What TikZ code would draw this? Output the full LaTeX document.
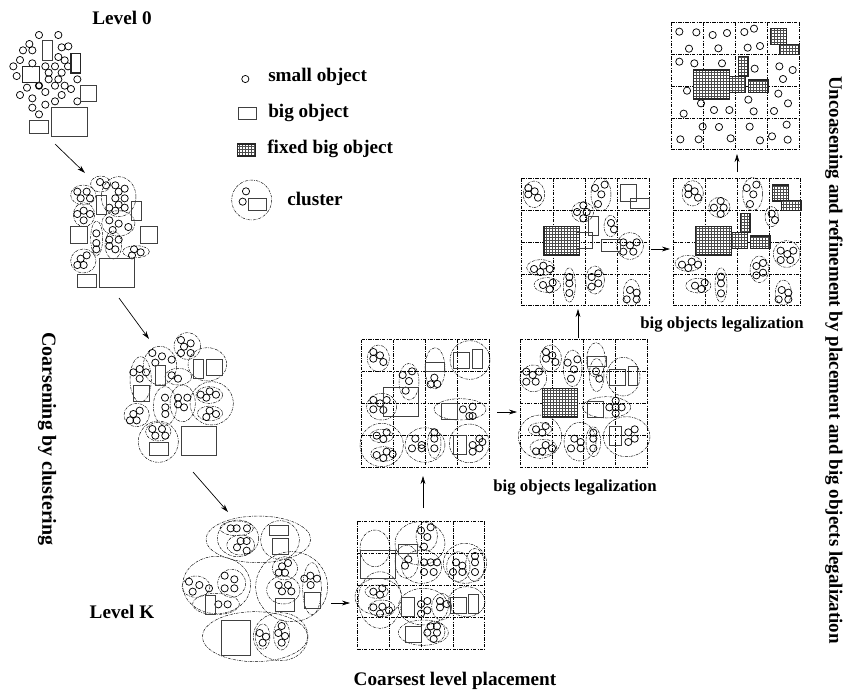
\documentclass[tikz,border=0pt]{standalone}
\usepackage{fontspec}
\setmainfont{Liberation Serif}
\usetikzlibrary{arrows.meta}

\newcommand{\smallobjs}[1]{\foreach \cx/\cy in {#1}{\draw[smallobj] (\cx,\cy) circle[radius=2.7pt];}}
\newcommand{\bigobjs}[1]{\foreach \ax/\ay/\bx/\by in {#1}{\draw[bigobj] (\ax,\ay) rectangle (\bx,\by);}}
\newcommand{\fixedobjs}[1]{\foreach \ax/\ay/\bx/\by in {#1}{
  \draw[bigobj, fill=white] (\ax,\ay) rectangle (\bx,\by);
  \draw[fixedhatch] (\ax,\ay) grid (\bx,\by);
  \draw[fixedobj] (\ax,\ay) rectangle (\bx,\by);}}
\newcommand{\clusters}[1]{\foreach \ex/\ey/\rx/\ry in {#1}{\draw[cluster] (\ex,\ey) ellipse[x radius=\rx, y radius=\ry];}}
\newcommand{\regiongrid}[2]{\foreach \i in {0,...,4}{
  \draw[gridline] ({#1+95.5*\i},#2) -- ({#1+95.5*\i},{#2+382});
  \draw[gridline] (#1,{#2+95.5*\i}) -- ({#1+382},{#2+95.5*\i});}}

\begin{document}
\begin{tikzpicture}[
  x=0.75pt, y=-0.75pt,
  font=\fontsize{14.4pt}{16pt}\selectfont\bfseries,
  smallobj/.style={draw=black, line width=0.55pt},
  bigobj/.style={draw=black!75, line width=0.75pt},
  fixedobj/.style={draw=black!85, line width=0.8pt},
  fixedhatch/.style={draw=black!70, line width=0.22pt, step=2.25pt},
  cluster/.style={draw=black, line width=0.35pt, dash pattern=on 2pt off 0.8pt on 0.5pt off 0.8pt},
  gridline/.style={draw=black, line width=0.45pt, dash pattern=on 2.5pt off 1pt on 0.6pt off 1pt},
  arr/.style={-{Stealth[length=6pt, width=3.6pt]}, line width=0.5pt},
  midlabel/.style={font=\fontsize{12.6pt}{14pt}\selectfont\bfseries},
  zoomed/.style n args={2}{shift={(#1,#2)}, x=0.25pt, y=-0.25pt}
]
\useasboundingbox (0,0) rectangle (854,690);

\node (lev0) at (122,18) {Level 0};
\node (levk) at (122,612) {Level K};
\node[anchor=west, inner sep=0pt] (legsmall) at (268,77) {small object};
\node[anchor=west, inner sep=0pt] (legbig) at (268,113) {big object};
\node[anchor=west, inner sep=0pt] (legfixed) at (267,149) {fixed big object};
\node[anchor=west, inner sep=0pt] (legcluster) at (287,199) {cluster};
\node[rotate=-90, font=\fontsize{15pt}{16pt}\selectfont\bfseries] (coarsening) at (47,439) {Coarsening by clustering};
\node[rotate=-90, font=\fontsize{14.2pt}{16pt}\selectfont\bfseries] (uncoarsening) at (834,360) {Uncoasening and refinement by placement and big objects legalization};
\node[midlabel] (legal1) at (722,325) {big objects legalization};
\node[midlabel] (legal2) at (575,488) {big objects legalization};
\node (coarsest) at (455,681) {Coarsest level placement};

\begin{scope}[zoomed={200}{50}]
\smallobjs{136/87,138/424,128/455}
\bigobjs{114/172/168/208,146/446/200/482}
\fixedobjs{112/282/166/318}
\clusters{155/450/60/60}
\end{scope}

\begin{scope}[zoomed={0}{0}]
\smallobjs{117/105,175/105,88/132,69/151,97/151,185/142,205/139,175/171,194/181,60/180,40/199,97/190,136/199,165/199,204/199,146/218,185/218,50/228,146/238,175/238,232/238,165/257,194/257,213/267,81/263,136/276,60/285,97/295,185/285,165/304,232/304,136/314,97/323,117/343}
\draw[smallobj, line width=1pt] (117,257) circle[radius=2.5pt];
\bigobjs{127/122/156/181,242/257/290/305,155/323/261/410,88/362/146/400}
\draw[fixedobj, line width=1.1pt] (213,161) rectangle (242,219);
\draw[fixedobj, line width=1.1pt] (68,199) rectangle (118,248);
\clusters{250/585/38/30,302/552/30/24,356/590/52/60,252/644/32/36,355/670/50/38,290/715/18/52,340/735/25/42,250/783/38/36,408/755/40/18}
\smallobjs{300/546,318/556,346/556,374/566,356/575,232/575,260/575,242/595,270/595,346/595,374/595,356/614,328/623,346/632,374/623,232/642,251/632,270/642,251/661,328/661,356/671,385/681,338/690,289/700,328/719,356/719,289/729,328/738,346/748,289/748,402/748,422/757,396/766,260/766,242/776,232/795,251/795}
\bigobjs{289/585/318/643,394/604/423/662,212/680/261/729,422/680/471/729,298/776/404/862,232/824/290/862}
\end{scope}

\begin{scope}[zoomed={110}{320}]
\clusters{232/78/40/40,150/137/50/58,205/170/40/25,92/178/32/68,292/133/58/50,165/258/35/58,218/250/38/55,305/250/65/65,298/225/40/25,300/280/38/22,80/285/38/35,145/365/60/62,145/335/38/28}
\smallobjs{213/60,242/70,222/80,213/99,242/99,127/99,156/109,185/119,136/128,70/157,89/147,108/157,89/176,185/166,204/176,165/233,166/262,166/282,204/233,232/233,204/253,222/262,272/224,299/214,318/224,289/233,299/272,318/282,289/291,89/272,70/282,60/301,80/301,127/327,156/327,136/347,166/347}
\bigobjs{136/137/165/196,251/119/280/176,289/119/338/167,70/196/118/244,213/320/319/406,118/367/176/406}
\clusters{445/658/157/70,384/655/62/55,380/625/50/22,392/675/42/30,510/660/58/58,320/795/102/86,258/800/42/32,365/790/42/42,318/852/70/32,545/800/108/105,525/745/38/35,520/810/50/42,606/806/28/78,435/950/158/75,512/950/82/72,458/950/22/38,515/945/24/45}
\smallobjs{362/625,380/625,411/625,410/663,392/663,381/682,410/692,237/785,268/795,297/805,248/815,344/767,373/778,344/805,373/805,325/853,353/853,534/729,516/739,506/758,525/758,506/795,534/795,516/814,544/814,583/776,601/767,621/776,602/795,449/939,468/950,458/968,515/918,505/939,525/948,515/968}
\bigobjs{477/616/535/645,487/654/536/702,286/826/316/884,496/835/554/873,583/816/631/865,335/902/421/1007}
\end{scope}

\begin{scope}[zoomed={340}{330}]
\regiongrid{52}{575}
\clusters{105/655/45/55,240/640/75/65,260/618/32/45,200/695/35/50,375/700/65/60,355/710/35/45,405/705/28/50,245/710/60/50,115/800/70/55,110/785/35/20,125/835/40/25,120/810/65/85,380/815/55/45,250/830/75/55,305/830/30/40,250/908/75/38,285/905/30/32}
\smallobjs{272/592,243/602,262/621,252/650,205/688,195/707,252/697,272/697,291/697,252/726,281/726,348/697,367/707,339/726,367/726,405/678,405/697,405/726,100/785,127/775,120/794,100/832,127/830,120/851,147/841,243/822,262/813,262/841,243/851,300/813,320/822,300/832,262/908,291/889,272/889,291/908,281/927}
\bigobjs{62/661/167/746,176/642/233/670,185/803/224/860,195/889/243/937,330/803/378/851,386/794/415/851}

\regiongrid{65}{29}
\clusters{115/85/33/40,207/155/30/55,285/115/30/62,390/90/60/58,125/230/45/40,360/238/78/32,125/345/65/65,125/318/35/20,130/372/38/22,255/345/60/52,283/340/20/45,388/340/60/58}
\smallobjs{100/66,120/76,100/86,130/96,216/124,188/135,207/153,197/182,283/143,292/162,272/163,100/210,120/220,140/210,100/238,130/240,369/238,398/230,388/258,398/258,110/317,130/327,140/307,110/375,130/384,140/365,158/372,226/326,245/345,216/355,245/355,283/307,283/326,283/355,418/326,398/345,427/336,418/355,398/365}
\bigobjs{255/97/313/125,340/68/389/116,398/58/427/116,130/172/236/259,303/220/351/268,340/317/380/374}

\regiongrid{540}{29}
\clusters{632/85/32/40,698/115/28/55,768/90/28/52,770/135/22/50,850/140/50/58,580/145/40/40,800/232/72/32,600/320/65/65,600/298/35/20,610/352/40/24,720/335/48/58,760/335/22/45,860/320/70/60}
\smallobjs{618/66,637/76,618/86,646/96,683/98,712/88,702/118,693/146,768/124,778/146,559/125,578/135,597/125,559/155,587/155,808/232,827/212,827/232,827/250,845/232,617/288,588/298,607/308,588/364,607/364,617/345,636/355,703/326,722/336,693/355,722/355,760/308,760/326,760/355,884/298,865/307,884/326,865/336}
\bigobjs{741/78/799/108,808/118/856/166,865/108/893/165,741/214/789/262,808/290/845/347}
\fixedobjs{607/176/713/261}
\end{scope}

\begin{scope}[zoomed={510}{0}]
\regiongrid{35}{535}
\clusters{72/583/32/40,273/583/30/50,218/636/33/30,302/678/20/32,360/738/40/40,92/803/42/24,112/855/40/22,178/855/18/52,255/840/28/42,365/878/25/40}
\smallobjs{55/564,74/574,55/583,84/593,255/564,284/554,274/583,264/612,220/616,201/636,230/636,220/655,303/669,312/688,340/727,380/727,360/736,340/755,370/755,72/807,100/797,91/816,119/807,99/855,128/848,119/868,178/831,178/850,178/879,265/820,245/831,265/850,245/860,360/870,380/878,350/898,380/898}
\fixedobjs{102/679/208/765}
\bigobjs{198/697/246/745,236/650/265/707,275/717/332/755,332/554/380/603,360/594/418/624}

\regiongrid{490}{535}
\clusters{548/580/32/38,728/582/30/50,628/622/32/30,785/650/20/30,830/762/40/40,535/790/40/24,565/857/38/22,633/855/18/52,748/808/28/40,820/878/24/38}
\smallobjs{535/564,554/574,535/583,564/593,710/564,739/554,730/583,720/612,632/603,612/623,641/623,632/642,785/641,795/660,812/752,850/752,832/762,812/780,841/780,516/794,545/785,535/804,564/794,555/857,584/848,574/867,633/830,633/850,633/880,739/798,759/789,739/826,759/818,815/870,835/878,806/898,835/898}
\fixedobjs{556/679/664/765,664/698/713/746,721/708/780/746,691/640/720/698,787/555/835/603,815/602/873/631}

\regiongrid{485}{67}
\smallobjs{508/95,559/97,608/105,651/99,703/96,732/86,537/146,625/145,713/143,750/138,508/185,553/190,636/190,734/206,808/199,848/210,819/237,531/272,805/281,834/310,573/310,612/330,658/330,521/341,731/334,792/333,715/299,578/380,627/381,719/380,830/374,511/418,566/418,662/415,750/421,786/409,833/419}
\fixedobjs{551/210/658/297,658/229/707/277,715/240/774/278,685/170/714/228,781/86/829/133,809/134/867/163}
\end{scope}

\coordinate (a0) at (55,144);
\coordinate (a1) at (85,173);
\coordinate (b0) at (119,298);
\coordinate (b1) at (149,339);
\coordinate (c0) at (193,472);
\coordinate (c1) at (228,512);
\coordinate (d0) at (331,603);
\coordinate (d1) at (350,603);
\coordinate (e0) at (423,508);
\coordinate (e1) at (423,476);
\coordinate (f0) at (497,412);
\coordinate (f1) at (517,412);
\coordinate (g0) at (578,338);
\coordinate (g1) at (578,309);
\coordinate (h0) at (651,249);
\coordinate (h1) at (670,249);
\coordinate (k0) at (737,172);
\coordinate (k1) at (737,154);
\foreach \from/\to in {a0/a1,b0/b1,c0/c1,d0/d1,e0/e1,f0/f1,g0/g1,h0/h1,k0/k1}
  \draw[arr] (\from) -- (\to);
\end{tikzpicture}
\end{document}
